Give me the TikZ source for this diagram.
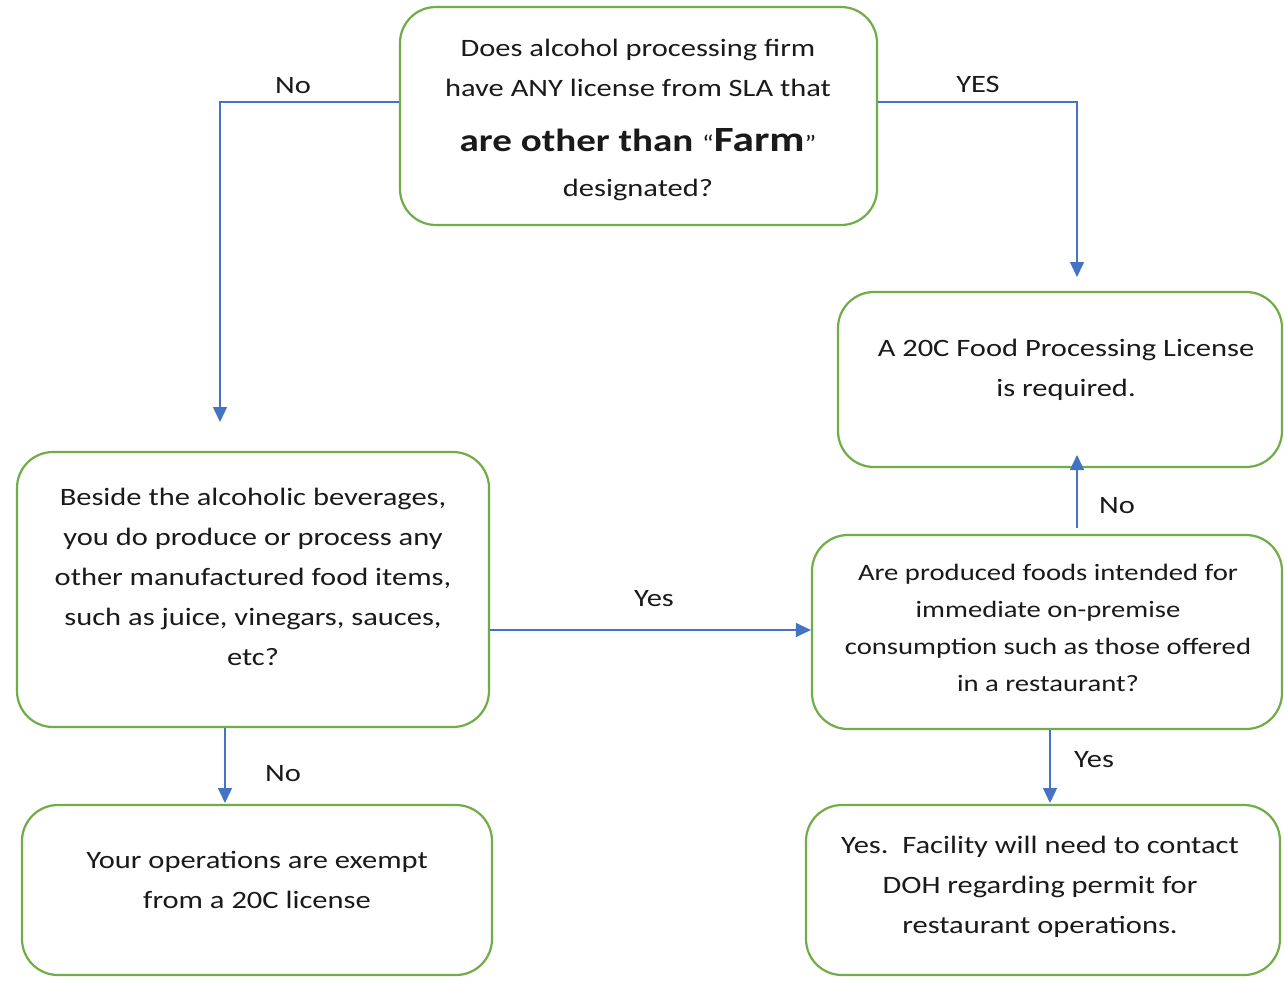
\documentclass[tikz,border=0pt]{standalone}
\usepackage{fontspec}
\setmainfont{Carlito}[FakeStretch=1.22]
\usetikzlibrary{arrows.meta}
\definecolor{boxgreen}{HTML}{70AD47}
\definecolor{lineblue}{HTML}{4472C4}
\definecolor{ink}{HTML}{1A1A1A}
\begin{document}
\begin{tikzpicture}[x=1pt,y=-1pt,
  box/.style={draw=boxgreen,line width=2.2pt,rounded corners=36pt,fill=white,inner sep=0pt},
  txt/.style={align=center,inner sep=0pt,text=ink,font=\fontsize{25}{40}\selectfont},
  smalltxt/.style={align=center,inner sep=0pt,text=ink,font=\fontsize{23.5}{37}\selectfont},
  lbl/.style={inner sep=0pt,text=ink,font=\fontsize{25}{30}\selectfont},
  arr/.style={draw=lineblue,line width=1.3pt,-{Triangle[length=15pt,width=14pt]}}]
\useasboundingbox (0,0) rectangle (1284,980);
\fill[white] (0,0) rectangle (1284,980);

% boxes
\node[box,minimum width=477pt,minimum height=218pt] (q1) at (638.5,116) {};
\node[box,minimum width=444pt,minimum height=175pt] (r1) at (1060,379.5) {};
\node[box,minimum width=472pt,minimum height=275pt] (q2) at (253,589.5) {};
\node[box,minimum width=470pt,minimum height=194pt] (q3) at (1047,632) {};
\node[box,minimum width=470pt,minimum height=170pt] (e1) at (257,890) {};
\node[box,minimum width=474pt,minimum height=170pt] (e2) at (1043,890) {};

% texts
\node[txt,font=\fontsize{25}{40}\selectfont] (t1) at (638,119.5) {Does alcohol processing firm\\ have ANY license from SLA that\\[15pt] {\fontsize{32}{34}\selectfont\bfseries are other than }{\fontsize{23}{34}\selectfont``}{\fontsize{35.5}{34}\selectfont\bfseries Farm}{\fontsize{23}{34}\selectfont''}\\[5pt] designated?};
\node[txt] (t2) at (1066,369.5) {A 20C Food Processing License\\ is required.};
\node[txt] (t3) at (253,577) {Beside the alcoholic beverages,\\ you do produce or process any\\ other manufactured food items,\\ such as juice, vinegars, sauces,\\ etc?};
\node[smalltxt] (t4) at (1048,628) {Are produced foods intended for\\ immediate on-premise\\ consumption such as those offered\\ in a restaurant?};
\node[txt] (t5) at (257,880) {Your operations are exempt\\ from a 20C license};
\node[txt] (t6) at (1040,886.5) {Yes.\ \ Facility will need to contact\\ DOH regarding permit for\\ restaurant operations.};

% connector end points
\coordinate (a1) at (220,422);
\coordinate (a2) at (1077,277);
\coordinate (a3s) at (1077,528);
\coordinate (a3) at (1077,455);
\coordinate (a4) at (225,803);
\coordinate (a5) at (1050,803);

% connectors
\draw[arr] (q1.west |- 0,102) -| (a1);
\draw[arr] (q1.east |- 0,102) -| (a2);
\draw[arr] (q2.east |- 0,630) -- (q3.west |- 0,630);
\draw[arr] (a3s) -- (a3);
\draw[arr] (q2.south -| a4) -- (a4);
\draw[arr] (q3.south -| a5) -- (a5);

% labels
\node[lbl] (l1) at (293,86) {No};
\node[lbl] (l2) at (978,84) {YES};
\node[lbl] (l3) at (654,599) {Yes};
\node[lbl] (l4) at (1117,506) {No};
\node[lbl] (l5) at (283,774) {No};
\node[lbl] (l6) at (1094,760) {Yes};
\end{tikzpicture}
\end{document}
